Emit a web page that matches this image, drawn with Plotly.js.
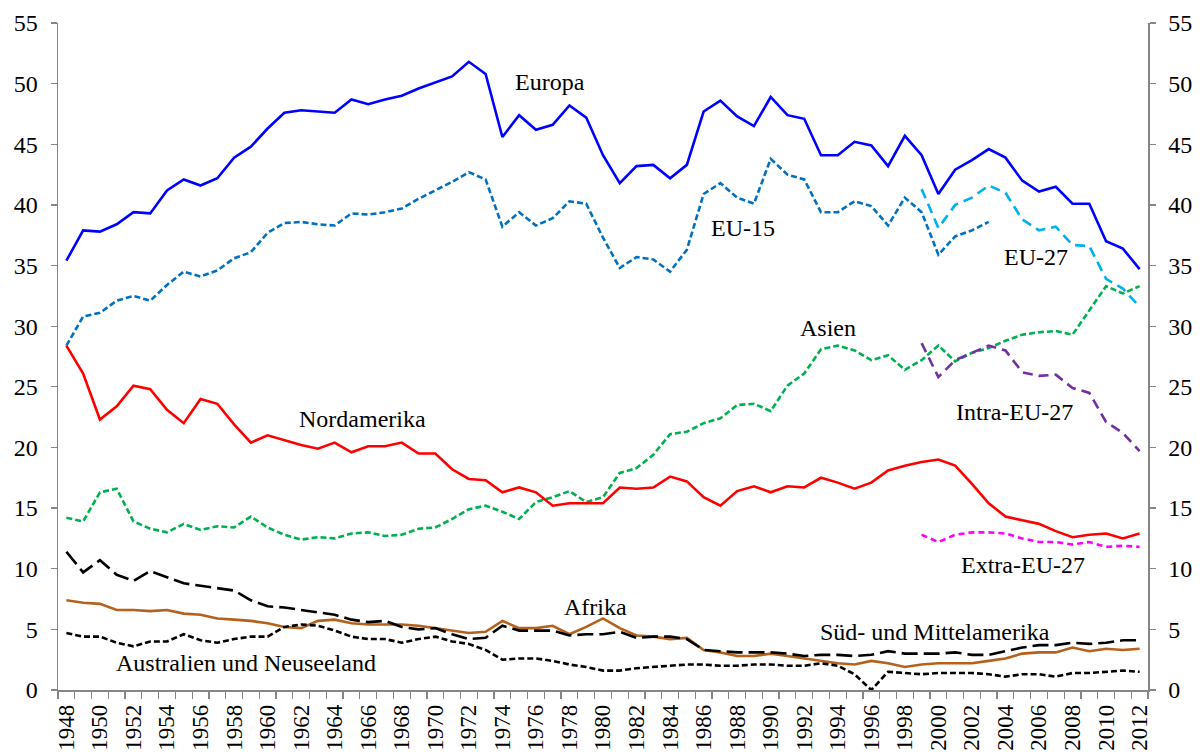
<!DOCTYPE html>
<html>
<head>
<meta charset="utf-8">
<script src="https://cdn.plot.ly/plotly-3.0.1.min.js"></script>
<style>html,body{margin:0;padding:0;background:#fff;}#chart{width:1202px;height:754px;}</style>
</head>
<body>
<div id="chart"></div>
<script>
var years = [];
for (var yr = 1948; yr <= 2012; yr++) years.push(yr);
var yearsEU27 = years.slice(years.indexOf(1999));
var yearsEU15 = years.slice(0, years.indexOf(2003) + 1);

var europa = [35.4,37.9,37.8,38.4,39.4,39.3,41.2,42.1,41.6,42.2,43.9,44.8,46.3,47.6,47.8,47.7,47.6,48.7,48.3,48.7,49.0,49.6,50.1,50.6,51.8,50.8,45.6,47.4,46.2,46.6,48.2,47.2,44.1,41.8,43.2,43.3,42.2,43.3,47.7,48.6,47.3,46.5,48.9,47.4,47.1,44.1,44.1,45.2,44.9,43.2,45.7,44.1,40.9,42.9,43.7,44.6,43.9,42.0,41.1,41.5,40.1,40.1,37.0,36.4,34.7];
var eu15 = [28.4,30.8,31.1,32.1,32.5,32.1,33.4,34.5,34.1,34.6,35.6,36.1,37.7,38.5,38.6,38.4,38.3,39.3,39.2,39.4,39.7,40.5,41.2,41.9,42.7,42.1,38.2,39.4,38.3,38.9,40.3,40.1,37.3,34.8,35.7,35.5,34.5,36.3,40.9,41.8,40.6,40.1,43.8,42.5,42.1,39.4,39.4,40.3,39.9,38.3,40.6,39.4,35.9,37.4,37.9,38.6];
var eu27 = [41.3,38.1,40.0,40.6,41.6,41.0,38.8,37.9,38.2,36.7,36.6,33.9,33.1,31.6];
var asien = [14.2,13.9,16.3,16.6,13.9,13.3,13.0,13.7,13.2,13.5,13.4,14.3,13.4,12.8,12.4,12.6,12.5,12.9,13.0,12.7,12.8,13.3,13.4,14.1,14.9,15.2,14.7,14.1,15.5,15.9,16.4,15.5,15.9,17.9,18.3,19.4,21.1,21.3,22.0,22.4,23.5,23.6,23.0,25.1,26.1,28.1,28.4,28.0,27.2,27.6,26.4,27.2,28.4,27.1,27.8,28.2,28.8,29.3,29.5,29.6,29.3,31.3,33.3,32.7,33.3];
var nordamerika = [28.4,26.1,22.3,23.4,25.1,24.8,23.1,22.0,24.0,23.6,21.9,20.4,21.0,20.6,20.2,19.9,20.4,19.6,20.1,20.1,20.4,19.5,19.5,18.2,17.4,17.3,16.3,16.7,16.3,15.2,15.4,15.4,15.4,16.7,16.6,16.7,17.6,17.2,15.9,15.2,16.4,16.8,16.3,16.8,16.7,17.5,17.1,16.6,17.1,18.1,18.5,18.8,19.0,18.5,17.0,15.4,14.3,14.0,13.7,13.1,12.6,12.8,12.9,12.5,12.9];
var intraEU27 = [28.6,25.8,27.2,27.8,28.4,28.0,26.2,25.9,26.0,24.9,24.5,22.1,21.2,19.7];
var extraEU27 = [12.8,12.2,12.8,13.0,13.0,12.9,12.5,12.2,12.2,12.0,12.2,11.8,11.9,11.8];
var afrika = [7.4,7.2,7.1,6.6,6.6,6.5,6.6,6.3,6.2,5.9,5.8,5.7,5.5,5.2,5.1,5.7,5.8,5.5,5.4,5.4,5.4,5.3,5.1,4.9,4.7,4.8,5.7,5.1,5.1,5.3,4.6,5.2,5.9,5.1,4.5,4.4,4.2,4.3,3.3,3.1,2.8,2.8,3.0,2.8,2.6,2.4,2.2,2.1,2.4,2.2,1.9,2.1,2.2,2.2,2.2,2.4,2.6,3.0,3.1,3.1,3.5,3.2,3.4,3.3,3.4];
var suedMittelamerika = [11.4,9.7,10.7,9.5,9.0,9.8,9.3,8.8,8.6,8.4,8.2,7.4,6.9,6.8,6.6,6.4,6.2,5.8,5.6,5.7,5.2,5.0,5.1,4.6,4.2,4.3,5.3,4.9,4.9,4.9,4.5,4.6,4.6,4.8,4.3,4.4,4.4,4.2,3.3,3.2,3.1,3.1,3.1,3.0,2.8,2.9,2.9,2.8,2.9,3.2,3.0,3.0,3.0,3.1,2.9,2.9,3.2,3.5,3.7,3.7,3.9,3.8,3.9,4.1,4.1];
var australienNZ = [4.7,4.4,4.4,3.9,3.6,4.0,4.0,4.6,4.1,3.9,4.2,4.4,4.4,5.2,5.4,5.3,4.9,4.4,4.2,4.2,3.9,4.2,4.4,4.0,3.8,3.3,2.5,2.6,2.6,2.4,2.1,1.9,1.6,1.6,1.8,1.9,2.0,2.1,2.1,2.0,2.0,2.1,2.1,2.0,2.0,2.2,2.0,1.3,0.0,1.5,1.4,1.3,1.4,1.4,1.4,1.3,1.1,1.3,1.3,1.1,1.4,1.4,1.5,1.6,1.5];

var labels = [
  {text:'Europa', x:1976.84, y:50.17},
  {text:'EU-15', x:1988.35, y:38.1},
  {text:'EU-27', x:2005.82, y:35.7},
  {text:'Asien', x:1993.41, y:29.85},
  {text:'Nordamerika', x:1965.63, y:22.34},
  {text:'Intra-EU-27', x:2004.56, y:22.9},
  {text:'Extra-EU-27', x:2005.04, y:10.28},
  {text:'Afrika', x:1979.58, y:6.81},
  {text:'Süd- und Mittelamerika', x:1999.79, y:4.75},
  {text:'Australien und Neuseeland', x:1958.71, y:2.19}
];

var tickYears = years.filter(function(v){return v % 2 === 0;});

function tr(x, y, color, dash, name, yaxis) {
  return {x:x, y:y, type:'scatter', mode:'lines', name:name, yaxis: yaxis || 'y',
    line:{color:color, width:2.6, dash:dash}, hoverinfo:'skip'};
}

var data = [
  tr(years, europa, '#0000FF', 'solid', 'Europa'),
  tr(yearsEU15, eu15, '#0070C0', '6px,3px', 'EU-15'),
  tr(yearsEU27, eu27, '#00B0F0', '10px,6px', 'EU-27'),
  tr(years, asien, '#00B050', '6px,3px', 'Asien'),
  tr(years, nordamerika, '#FF0000', 'solid', 'Nordamerika'),
  tr(yearsEU27, intraEU27, '#7030A0', '10px,6px', 'Intra-EU-27'),
  tr(years, afrika, '#B5611C', 'solid', 'Afrika'),
  tr(years, suedMittelamerika, '#000000', '16px,6px', 'Süd- und Mittelamerika'),
  tr(years, australienNZ, '#000000', '6px,3px', 'Australien und Neuseeland'),
  tr(yearsEU27, extraEU27, '#FF00FF', '6px,4px', 'Extra-EU-27', 'y2')
];

var FAM = 'Liberation Serif';
var tickFont = {family:FAM, size:24, color:'#000'};
var xTickFont = {family:FAM, size:23, color:'#000'};
var axisCol = '#868686';

var layout = {
  width:1202, height:754,
  margin:{l:58, r:54, t:23, b:64, pad:0},
  paper_bgcolor:'#fff', plot_bgcolor:'#fff',
  showlegend:false,
  font:{family:FAM, size:24, color:'#000'},
  xaxis:{
    range:[1947.5, 2012.5], showgrid:false, zeroline:false,
    showline:true, linecolor:axisCol, linewidth:1.5,
    tickmode:'array', tickvals:tickYears, ticktext:tickYears.map(String),
    ticks:'', tickangle:-90, tickfont:xTickFont, ticklabelstandoff:4,
    minor:{ticks:'outside', tick0:1947.5, dtick:1, ticklen:7, tickcolor:axisCol, tickwidth:1.2, showgrid:false}
  },
  yaxis:{
    range:[0,55], dtick:5, tick0:0, showgrid:false, zeroline:false,
    showline:true, linecolor:axisCol, linewidth:1.5, ticklabelstandoff:8,
    ticks:'outside', ticklen:6, tickcolor:axisCol, tickwidth:1.2, tickfont:tickFont
  },
  yaxis2:{
    range:[0,55], dtick:5, tick0:0, overlaying:'y', side:'right', showgrid:false, zeroline:false,
    showline:true, linecolor:axisCol, linewidth:1.5, ticklabelstandoff:8,
    ticks:'outside', ticklen:6, tickcolor:axisCol, tickwidth:1.2, tickfont:tickFont
  },
  annotations: labels.map(function(l){
    return {text:l.text, x:l.x, y:l.y, xref:'x', yref:'y', showarrow:false,
      xanchor:'center', yanchor:'middle',
      font:{family:FAM, size:24, color:'#000'}};
  })
};

Plotly.newPlot('chart', data, layout, {displayModeBar:false, staticPlot:true});
</script>
</body>
</html>
